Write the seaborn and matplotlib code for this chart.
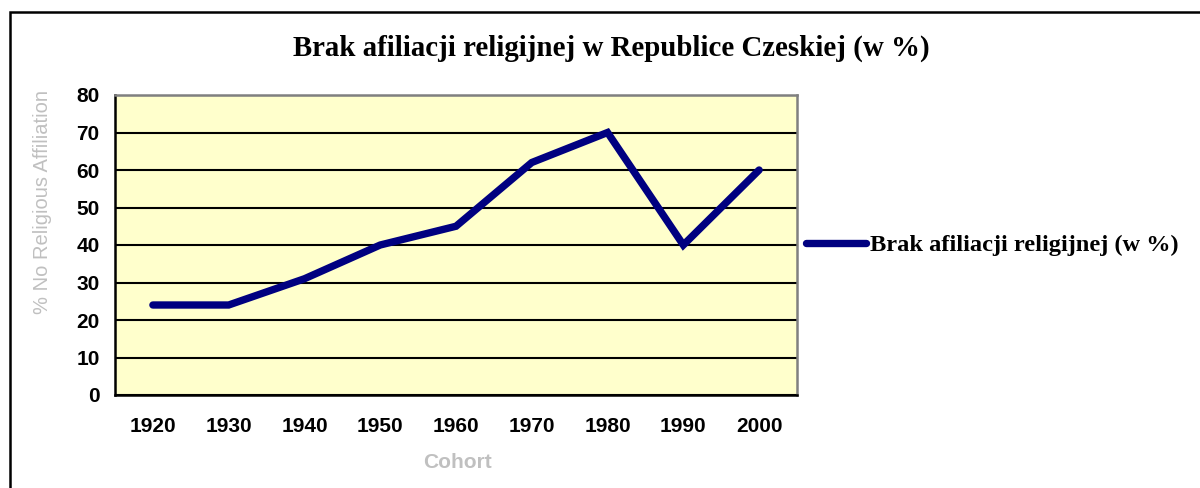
import numpy as np
import pandas as pd
import matplotlib
matplotlib.use("Agg")
import matplotlib.pyplot as plt
import matplotlib.patches as patches
from matplotlib.ticker import FixedLocator
import seaborn as sns

# data
cohorts = ["1920", "1930", "1940", "1950", "1960", "1970", "1980", "1990", "2000"]
no_affiliation = [24, 24, 31, 40, 45, 62, 70, 40, 60]
series_name = "Brak afiliacji religijnej (w %)"
title = "Brak afiliacji religijnej w Republice Czeskiej (w %)"
y_ticks = [0, 10, 20, 30, 40, 50, 60, 70, 80]

df = pd.DataFrame({"Cohort": cohorts, "value": no_affiliation})

sns.set_style("white")
plt.rcParams["font.family"] = ["Liberation Sans", "DejaVu Sans"]
plt.rcParams["text.color"] = "black"
plt.rcParams["xtick.color"] = "black"
plt.rcParams["ytick.color"] = "black"

W, H = 1200, 488
fig = plt.figure(figsize=(W / 100, H / 100), dpi=100)
ax = fig.add_axes([115 / W, 1 - 395 / H, (797 - 115) / W, (395 - 95) / H])
ax.set_facecolor("#FFFFCC")

sns.lineplot(data=df, x="Cohort", y="value", ax=ax, color="#000080",
             linewidth=5.3, solid_capstyle="round", solid_joinstyle="miter",
             label=series_name, zorder=3)

ax.set_ylim(0, 80)
ax.set_yticks(y_ticks)
ax.set_xlim(-0.5, len(cohorts) - 0.5)
ax.set_xticks(range(len(cohorts)))
ax.set_xticklabels(cohorts)
ax.xaxis.set_minor_locator(FixedLocator(np.arange(-0.5, len(cohorts), 1.0)))
ax.grid(axis="y", color="black", linewidth=1.5, zorder=1)
ax.set_axisbelow(True)

ax.tick_params(axis="x", which="major", length=0, pad=16, labelsize=15)
ax.tick_params(axis="x", which="minor", length=6, width=1.5, color="black", direction="out")
ax.tick_params(axis="y", length=5, width=1.5, color="black", direction="out", pad=6, labelsize=15)
for lab in ax.get_xticklabels() + ax.get_yticklabels():
    lab.set_fontweight("bold")

for side in ["left", "bottom"]:
    ax.spines[side].set_color("black")
    ax.spines[side].set_linewidth(1.8)
for side in ["top", "right"]:
    ax.spines[side].set_color("#808080")
    ax.spines[side].set_linewidth(1.8)

ax.set_xlabel("")
ax.set_ylabel("")
fig.text(42 / W, 1 - 202 / H, "% No Religious Affiliation", rotation=90,
         ha="center", va="center", fontsize=14.5, color="#C0C0C0")
fig.text(457 / W, 1 - 462 / H, "Cohort", ha="center", va="center",
         fontsize=15, fontweight="bold", color="#C0C0C0")

fig.text(611 / W, 1 - 48 / H, title, ha="center", va="center",
         fontsize=20.8, fontweight="bold", family=["Liberation Serif", "DejaVu Serif"])

ax.legend(loc="center left", bbox_to_anchor=(806 / W, 1 - 245 / H),
          bbox_transform=fig.transFigure, frameon=False, borderpad=0,
          borderaxespad=0, handlelength=2.45, handletextpad=0.16,
          prop={"family": "Liberation Serif", "weight": "bold", "size": 17.6})

# outer chart frame (cut off at right and bottom)
frame = patches.Rectangle((10 / W, -0.1), 1.2, 1 - 12 / H + 0.1, fill=False,
                          edgecolor="black", linewidth=1.8,
                          transform=fig.transFigure, clip_on=False)
fig.patches.append(frame)

fig.savefig("out.png", dpi=100)
